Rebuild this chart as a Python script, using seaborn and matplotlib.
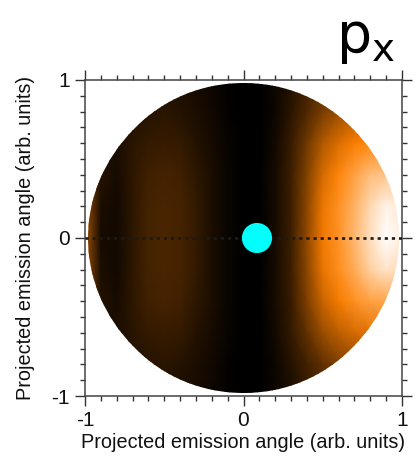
import numpy as np
import matplotlib
matplotlib.use("Agg")
import matplotlib.pyplot as plt
import seaborn as sns
from matplotlib.colors import LinearSegmentedColormap
from matplotlib.patches import Circle

# ---------------- data ----------------
grid_x = [-1.0, -0.95, -0.9, -0.8, -0.7, -0.6, -0.5, -0.4, -0.3, -0.2, -0.1,
          0.0, 0.1, 0.2, 0.3, 0.4, 0.5, 0.6, 0.7, 0.8, 0.9, 1.0]
grid_y = [1.0, 0.8, 0.6, 0.4, 0.2, 0.0, -0.2, -0.4, -0.6, -0.8, -1.0]
intensity = [
    [0.04, 0.04, 0.04, 0.04, 0.05, 0.06, 0.07, 0.06, 0.05, 0.03, 0.01, 0.0, 0.0, 0.03, 0.08, 0.14, 0.20, 0.26, 0.30, 0.32, 0.32, 0.32],
    [0.05, 0.05, 0.05, 0.05, 0.07, 0.08, 0.09, 0.08, 0.06, 0.04, 0.01, 0.0, 0.0, 0.03, 0.09, 0.17, 0.26, 0.33, 0.38, 0.41, 0.42, 0.42],
    [0.10, 0.08, 0.06, 0.06, 0.09, 0.11, 0.12, 0.11, 0.08, 0.05, 0.02, 0.0, 0.0, 0.04, 0.12, 0.24, 0.38, 0.47, 0.54, 0.58, 0.59, 0.59],
    [0.26, 0.18, 0.08, 0.05, 0.10, 0.14, 0.15, 0.14, 0.10, 0.06, 0.02, 0.0, 0.0, 0.05, 0.13, 0.28, 0.46, 0.57, 0.67, 0.77, 0.80, 0.80],
    [0.32, 0.20, 0.06, 0.04, 0.10, 0.15, 0.16, 0.15, 0.11, 0.06, 0.02, 0.0, 0.0, 0.05, 0.13, 0.30, 0.51, 0.61, 0.73, 0.87, 0.96, 0.92],
    [0.34, 0.20, 0.05, 0.04, 0.10, 0.15, 0.16, 0.15, 0.11, 0.06, 0.02, 0.0, 0.0, 0.05, 0.13, 0.31, 0.52, 0.62, 0.75, 0.89, 1.00, 0.94],
    [0.32, 0.20, 0.06, 0.04, 0.10, 0.15, 0.16, 0.15, 0.11, 0.06, 0.02, 0.0, 0.0, 0.05, 0.13, 0.30, 0.50, 0.60, 0.71, 0.84, 0.91, 0.87],
    [0.26, 0.18, 0.08, 0.05, 0.10, 0.14, 0.15, 0.14, 0.10, 0.06, 0.02, 0.0, 0.0, 0.05, 0.12, 0.27, 0.43, 0.53, 0.61, 0.67, 0.69, 0.69],
    [0.10, 0.08, 0.06, 0.06, 0.09, 0.11, 0.12, 0.11, 0.08, 0.05, 0.02, 0.0, 0.0, 0.04, 0.11, 0.21, 0.33, 0.41, 0.46, 0.49, 0.50, 0.50],
    [0.05, 0.05, 0.05, 0.05, 0.07, 0.08, 0.09, 0.08, 0.06, 0.04, 0.01, 0.0, 0.0, 0.03, 0.08, 0.14, 0.21, 0.27, 0.31, 0.33, 0.33, 0.33],
    [0.04, 0.04, 0.04, 0.04, 0.05, 0.06, 0.07, 0.06, 0.05, 0.03, 0.01, 0.0, 0.0, 0.03, 0.06, 0.11, 0.16, 0.21, 0.24, 0.26, 0.26, 0.26],
]
line_x = [-1.0, 1.0]
line_y = [0.0, 0.0]
dot_x = [0.085]
dot_y = [0.0]
tick_vals = [-1, 0, 1]
tick_labels = ["-1", "0", "1"]
axis_label = "Projected emission angle (arb. units)"
panel_title = r"p$_\mathregular{x}$"

# ---------------- styling ----------------
sns.set_style("ticks")
plt.rcParams["font.family"] = ["Liberation Sans", "DejaVu Sans"]

cmap = LinearSegmentedColormap.from_list(
    "blackorangewhite",
    [(0.0, "#000000"), (0.55, "#ff8000"), (0.8, "#ffc48a"), (1.0, "#ffffff")])

fig = plt.figure(figsize=(4.17, 4.62), dpi=100)
ax = fig.add_axes([85 / 417, 66 / 462, 317 / 417, 316 / 462])

X, Y = np.meshgrid(np.array(grid_x), np.array(grid_y))
Z = np.array(intensity)
mesh = ax.pcolormesh(X, Y, Z, shading="gouraud", cmap=cmap, vmin=0, vmax=1,
                     zorder=1, rasterized=True)
disk = Circle((0, 0), 0.98, transform=ax.transData)
mesh.set_clip_path(disk)

sns.lineplot(x=line_x, y=line_y, ax=ax, color="#1a1a1a", linestyle=(0, (1.2, 1.5)),
             linewidth=1.9, zorder=3)
sns.scatterplot(x=dot_x, y=dot_y, ax=ax, color="#00ffff", s=470, edgecolor="none",
                linewidth=0, zorder=4)

ax.set_xlim(-1, 1)
ax.set_ylim(-1, 1)
ax.set_xticks(tick_vals)
ax.set_xticklabels(tick_labels)
ax.set_yticks(tick_vals)
ax.set_yticklabels(tick_labels)
ax.set_xticks(np.arange(-1, 1.001, 0.1), minor=True)
ax.set_yticks(np.arange(-1, 1.001, 0.1), minor=True)
ax.tick_params(which="both", direction="out", top=True, right=True,
               color="#333333", width=1.0, labelsize=15, labelcolor="#111111")
ax.tick_params(which="major", length=7, pad=4)
ax.tick_params(which="minor", length=3.8)
for sp in ax.spines.values():
    sp.set_visible(True)
    sp.set_color("#444444")
    sp.set_linewidth(1.1)

ax.set_xlabel(axis_label, fontsize=14.3, color="#111111", labelpad=2)
ax.set_ylabel(axis_label, fontsize=14.3, color="#111111", labelpad=12)

fig.text(336 / 417, 1 - 52 / 462, panel_title, fontsize=40, family="DejaVu Sans",
         color="black", ha="left", va="baseline")

fig.savefig("out.png", dpi=100, facecolor="white")
